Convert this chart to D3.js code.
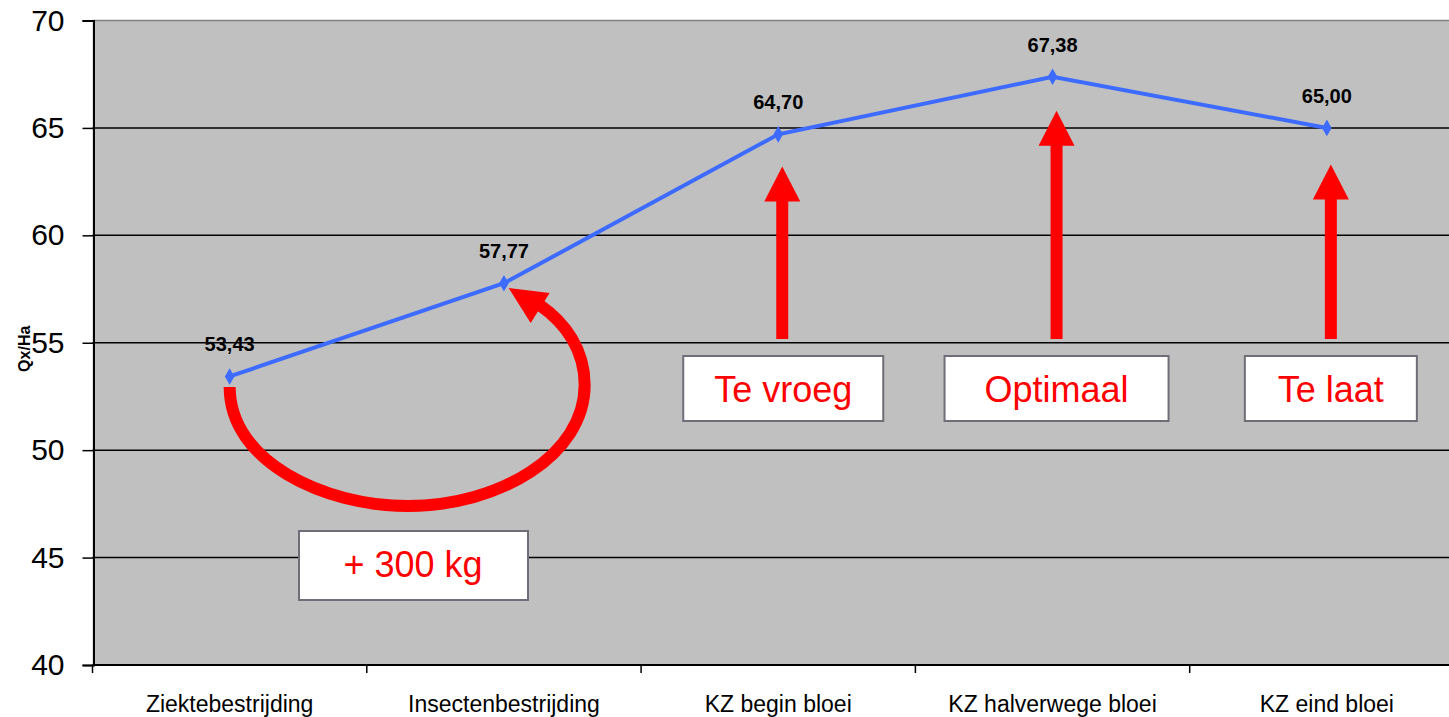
<!DOCTYPE html>
<html>
<head>
<meta charset="utf-8">
<script src="https://cdn.jsdelivr.net/npm/d3@7"></script>
<style>
  body { margin: 0; background: #fff; }
  svg { display: block; font-family: "Liberation Sans", Arial, sans-serif; }
</style>
</head>
<body>
<div id="chart"></div>
<script>
// data
const categories = ['Ziektebestrijding', 'Insectenbestrijding', 'KZ begin bloei', 'KZ halverwege bloei', 'KZ eind bloei'];
const values = [53.43, 57.77, 64.70, 67.38, 65.00];
const yTicks = [40, 45, 50, 55, 60, 65, 70];

// callouts: vertical arrows + text boxes under categories 3..5
const calloutCats = ['KZ begin bloei', 'KZ halverwege bloei', 'KZ eind bloei'];
const calloutText = ['Te vroeg', 'Optimaal', 'Te laat'];
const calloutTip = [63.2, 65.8, 63.3];
const gainText = '+ 300 kg';

const width = 1449;
const height = 717;
const margin = {top: 20.5, bottom: 52, left: 92.5, right: -15};

const svg = d3.select('#chart')
  .append('svg')
  .attr('width', width)
  .attr('height', height);

const x = d3.scalePoint()
  .domain(categories)
  .range([margin.left, width - margin.right])
  .padding(0.5);

const y = d3.scaleLinear()
  .domain([40, 70])
  .range([height - margin.bottom, margin.top]);

const step = x.step();
const plotLeft = margin.left;
const plotRight = width - margin.right;

// plot background
svg.append('rect')
  .attr('x', plotLeft)
  .attr('y', y(70))
  .attr('width', plotRight - plotLeft)
  .attr('height', y(40) - y(70))
  .attr('fill', '#c0c0c0');

// gridlines
svg.append('g')
  .selectAll('line')
  .data(yTicks.filter(d => d > 40))
  .join('line')
    .attr('x1', plotLeft)
    .attr('x2', plotRight)
    .attr('y1', d => y(d))
    .attr('y2', d => y(d))
    .attr('stroke', d => d === 70 ? '#808080' : '#000')
    .attr('stroke-width', 1.5);

// y axis
function yAxis(g) {
  g.attr('transform', `translate(${plotLeft + 1}, 0)`)
    .call(d3.axisLeft(y).tickValues(yTicks).tickSize(11).tickPadding(18))
    .attr('font-size', '30px')
    .attr('font-family', '"Liberation Sans", Arial, sans-serif');
  g.select('.domain').attr('stroke', '#000').attr('stroke-width', 2);
  g.selectAll('.tick line').attr('stroke', '#000').attr('stroke-width', 1.5);
  g.selectAll('.tick text').attr('fill', '#000');
}
svg.append('g').call(yAxis);

// x axis (ticks at category boundaries)
const bounds = d3.range(categories.length).map(i => plotLeft + step * i);
svg.append('line')
  .attr('x1', plotLeft).attr('x2', plotRight)
  .attr('y1', y(40)).attr('y2', y(40))
  .attr('stroke', '#000').attr('stroke-width', 2);
svg.append('g')
  .selectAll('line')
  .data(bounds)
  .join('line')
    .attr('x1', d => d).attr('x2', d => d)
    .attr('y1', y(40)).attr('y2', y(40) + 8)
    .attr('stroke', '#000').attr('stroke-width', 1.5);
svg.append('g')
  .selectAll('text')
  .data(categories)
  .join('text')
    .attr('x', d => x(d))
    .attr('y', y(40) + 47)
    .attr('text-anchor', 'middle')
    .attr('font-size', '23px')
    .text(d => d);

// y axis title
svg.append('text')
  .attr('transform', `translate(30, ${y(55) + 6}) rotate(-90)`)
  .attr('text-anchor', 'middle')
  .attr('font-size', '16px')
  .attr('font-weight', 'bold')
  .text('Qx/Ha');

// line
const points = categories.map((c, i) => ({cat: c, v: values[i]}));
svg.append('path')
  .datum(points)
  .attr('fill', 'none')
  .attr('stroke', '#3d6bff')
  .attr('stroke-width', 4)
  .attr('d', d3.line().x(d => x(d.cat)).y(d => y(d.v)));

svg.append('g')
  .selectAll('path')
  .data(points)
  .join('path')
    .attr('transform', d => `translate(${x(d.cat)},${y(d.v)})`)
    .attr('d', d3.symbol(d3.symbolDiamond, 80))
    .attr('fill', '#3d6bff');

svg.append('g')
  .selectAll('text')
  .data(points)
  .join('text')
    .attr('x', d => x(d.cat))
    .attr('y', d => y(d.v) - 25)
    .attr('text-anchor', 'middle')
    .attr('font-size', '20px')
    .attr('font-weight', 'bold')
    .text(d => d3.format('.2f')(d.v).replace('.', ','));

// vertical arrows and boxes
const red = '#ff0000';
calloutCats.forEach((c, i) => {
  const cx = x(c) + 4;
  const tip = y(calloutTip[i]);
  const base = tip + 35;
  svg.append('rect')
    .attr('x', cx - 6).attr('y', base - 1)
    .attr('width', 12).attr('height', 340 - base)
    .attr('fill', red);
  svg.append('path')
    .attr('d', `M${cx},${tip} L${cx + 18},${base} L${cx - 18},${base} Z`)
    .attr('fill', red);
});

const boxes = [
  {cx: x(calloutCats[0]) + 5, w: 200, text: calloutText[0]},
  {cx: x(calloutCats[1]) + 4, w: 224, text: calloutText[1]},
  {cx: x(calloutCats[2]) + 4, w: 172, text: calloutText[2]}
];
boxes.forEach(b => {
  svg.append('rect')
    .attr('x', b.cx - b.w / 2).attr('y', 356)
    .attr('width', b.w).attr('height', 65)
    .attr('fill', '#fff').attr('stroke', '#6e6e78').attr('stroke-width', 2);
  svg.append('text')
    .attr('x', b.cx).attr('y', 402)
    .attr('text-anchor', 'middle')
    .attr('font-size', '36px')
    .attr('fill', red)
    .text(b.text);
});

// curved arrow from first to second point
const x0 = x(categories[0]);
svg.append('path')
  .attr('d', `M${x0},387 C${x0},462 ${x0 + 95},506 ${x0 + 178},506 C${x0 + 270},506 ${x0 + 355},455 ${x0 + 355},385 C${x0 + 355},350 ${x0 + 336},323 ${x0 + 310},305`)
  .attr('fill', 'none')
  .attr('stroke', red)
  .attr('stroke-width', 12);
svg.append('path')
  .attr('d', `M${x0 + 279},288 L${x0 + 320},293 L${x0 + 301},323 Z`)
  .attr('fill', red);

// gain box
svg.append('rect')
  .attr('x', 299).attr('y', 531)
  .attr('width', 229).attr('height', 69)
  .attr('fill', '#fff').attr('stroke', '#6e6e78').attr('stroke-width', 2);
svg.append('text')
  .attr('x', 413).attr('y', 577)
  .attr('text-anchor', 'middle')
  .attr('font-size', '36px')
  .attr('fill', red)
  .text(gainText);
</script>
</body>
</html>
